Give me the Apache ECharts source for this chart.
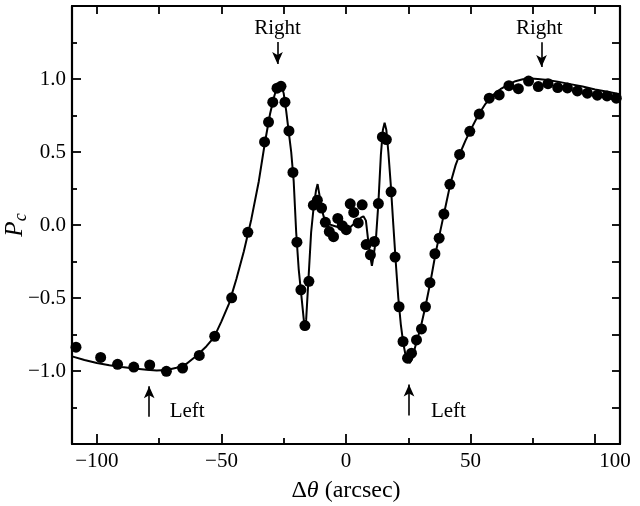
<!DOCTYPE html>
<html><head><meta charset="utf-8">
<script src="https://cdn.jsdelivr.net/npm/echarts@6/dist/echarts.min.js"></script>
<style>html,body{margin:0;padding:0;background:#fff}#c{width:640px;height:506px}</style>
</head><body><div id="c"></div>
<script>
// Observed P_c (dots)
const obsX = [-108.4,-98.5,-91.7,-85.2,-78.8,-72.1,-65.6,-58.9,-52.7,-45.9,-39.4,-32.7,-31.1,-29.4,-27.7,-26.1,-24.5,-22.9,-21.3,-19.7,-18.1,-16.5,-14.9,-13.1,-11.5,-9.8,-8.3,-6.7,-5.0,-3.3,-1.5,0.1,1.7,3.1,4.9,6.5,8.1,9.8,11.4,13.0,14.6,16.2,18.1,19.7,21.3,22.9,24.7,26.3,28.3,30.3,31.9,33.7,35.7,37.4,39.3,41.7,45.6,49.7,53.5,57.5,61.5,65.4,69.2,73.3,77.2,81.1,85.0,88.9,92.9,96.9,100.9,104.8,108.5];
const obsY = [-0.837,-0.907,-0.954,-0.973,-0.959,-1.002,-0.98,-0.893,-0.762,-0.499,-0.05,0.569,0.705,0.841,0.937,0.95,0.841,0.644,0.36,-0.118,-0.444,-0.689,-0.386,0.136,0.17,0.116,0.018,-0.045,-0.08,0.045,-0.005,-0.032,0.145,0.086,0.014,0.138,-0.134,-0.204,-0.113,0.147,0.603,0.585,0.227,-0.22,-0.56,-0.798,-0.912,-0.878,-0.787,-0.712,-0.56,-0.395,-0.197,-0.09,0.075,0.279,0.483,0.642,0.76,0.869,0.891,0.954,0.934,0.986,0.948,0.968,0.941,0.939,0.918,0.903,0.889,0.884,0.869];
// Model curve
const modelX = [-110,-105,-100,-95,-90,-85,-80,-76,-72,-68,-64,-60,-56,-53,-50,-47,-44,-41,-38,-35,-32.5,-30.5,-29,-28,-27,-26,-25,-24,-23,-22,-21,-20,-19,-18,-17,-16.5,-16,-15,-14,-13,-12,-11.4,-10.8,-10,-9,-8,-6,-4,-2,0,2,4,6,7,8,9,10,10.4,11,12,13,14,14.8,15.5,16.2,17,18,19,20,21,22,23,24,25.5,26.5,28,30,32,34,36,38,40,42,44,46,48,50,53,56,59,62,65,68,71,74,77,80,85,90,95,100,105,110];
const modelY = [-0.9,-0.925,-0.945,-0.96,-0.972,-0.983,-0.992,-0.996,-0.993,-0.978,-0.95,-0.895,-0.83,-0.77,-0.66,-0.54,-0.37,-0.18,0.04,0.3,0.57,0.76,0.87,0.93,0.965,0.96,0.9,0.78,0.64,0.5,0.3,-0.05,-0.3,-0.47,-0.64,-0.72,-0.65,-0.35,-0.05,0.12,0.24,0.28,0.22,0.13,0.06,0.02,0.0,-0.01,-0.02,-0.04,-0.01,0.02,0.05,0.06,0.03,-0.12,-0.24,-0.28,-0.22,-0.1,0.15,0.48,0.65,0.7,0.65,0.5,0.27,0.0,-0.26,-0.5,-0.68,-0.81,-0.9,-0.946,-0.92,-0.82,-0.7,-0.55,-0.38,-0.19,-0.03,0.13,0.29,0.41,0.5,0.58,0.65,0.75,0.83,0.89,0.93,0.96,0.985,0.998,1.003,1.0,0.995,0.982,0.965,0.948,0.928,0.912,0.895];
// Ticks
const xTickValues = [-100,-50,0,50,100];
const xMinorTickValues = [-75,-25,25,75];
const xTopTickValues = [-100,-75,-50,-25,0,25,50,75,100];
const yTickValues = [-1,-0.5,0,0.5,1];
const yMinorTickValues = [-1.25,-0.75,-0.25,0.25,0.75,1.25];
const yRightTickValues = [-1.25,-1,-0.75,-0.5,-0.25,0,0.25,0.5,0.75,1,1.25];
// Annotations
const noteText = ['Right','Right','Left','Left'];
const noteArrowX = [-27.5,78.5,-79,25.3];
const noteArrowFromY = [1.254,1.252,-1.313,-1.305];
const noteArrowToY = [1.102,1.082,-1.104,-1.093];
const noteTextX = [-27.5,77.6,-70.8,34.1];
const noteTextY = [1.345,1.345,-1.274,-1.274];
const noteAlign = ['center','center','left','left'];

const FONT = 'Liberation Serif';
const BLK = '#000';
const minus = s => s.replace('-', '\u2212');
const zip = (a,b) => a.map((v,i)=>[v,b[i]]);

const chart = echarts.init(document.getElementById('c'), null, {renderer:'canvas'});
const baseX = {type:'value', min:-110, max:110, splitLine:{show:false}};
const baseY = {type:'value', min:-1.5, max:1.5, splitLine:{show:false}};
const tickStyle = {color:BLK, width:1.8};
chart.setOption({
  animation:false,
  backgroundColor:'#fff',
  grid:{left:72,right:20,top:6,bottom:62,containLabel:false,outerBoundsMode:'none'},
  xAxis:[
    Object.assign({}, baseX, {
      position:'bottom',
      axisLine:{show:true,onZero:false,lineStyle:{color:BLK,width:2.2}},
      axisTick:{show:true,inside:true,length:10,customValues:xTickValues,lineStyle:tickStyle},
      axisLabel:{show:true,customValues:xTickValues,margin:7,color:BLK,fontFamily:FONT,fontSize:21,
        formatter:v=> v===100 ? '{r|100}' : minus(String(v)),
        rich:{r:{padding:[0,0,0,40],color:BLK,fontFamily:FONT,fontSize:21}}},
      name:'{n|\u0394}{i|\u03b8}{n| (arcsec)}',
      nameLocation:'middle', nameGap:35, nameMoveOverlap:false,
      nameTextStyle:{rich:{n:{fontFamily:FONT,fontSize:24,color:BLK},i:{fontFamily:FONT,fontSize:24,fontStyle:'italic',color:BLK}}}
    }),
    Object.assign({}, baseX, {
      position:'bottom',
      axisLine:{show:false,onZero:false},
      axisTick:{show:true,inside:true,length:6,customValues:xMinorTickValues,lineStyle:tickStyle},
      axisLabel:{show:false}
    }),
    Object.assign({}, baseX, {
      position:'top',
      axisLine:{show:true,onZero:false,lineStyle:{color:BLK,width:2.2}},
      axisTick:{show:true,inside:true,length:8,customValues:xTopTickValues,lineStyle:tickStyle},
      axisLabel:{show:false}
    })
  ],
  yAxis:[
    Object.assign({}, baseY, {
      position:'left',
      axisLine:{show:true,onZero:false,lineStyle:{color:BLK,width:2.2}},
      axisTick:{show:true,inside:true,length:9,customValues:yTickValues,lineStyle:tickStyle},
      axisLabel:{show:true,customValues:yTickValues,margin:6,color:BLK,fontFamily:FONT,fontSize:21,
        formatter:v=>minus(v.toFixed(1))},
      name:'{p|P}{c|c}',
      nameLocation:'middle', nameRotate:90, nameGap:42, nameMoveOverlap:false,
      nameTextStyle:{rich:{p:{fontFamily:FONT,fontSize:25,fontStyle:'italic',color:BLK},
        c:{fontFamily:FONT,fontSize:18,fontStyle:'italic',color:BLK,padding:[12,0,0,0]}}}
    }),
    Object.assign({}, baseY, {
      position:'left',
      axisLine:{show:false,onZero:false},
      axisTick:{show:true,inside:true,length:5,customValues:yMinorTickValues,lineStyle:tickStyle},
      axisLabel:{show:false}
    }),
    Object.assign({}, baseY, {
      position:'right',
      axisLine:{show:true,onZero:false,lineStyle:{color:BLK,width:2.2}},
      axisTick:{show:true,inside:true,length:8,customValues:yRightTickValues,lineStyle:tickStyle},
      axisLabel:{show:false}
    })
  ],
  series:[
    {type:'line', xAxisIndex:0, yAxisIndex:0, data:zip(modelX,modelY), showSymbol:false, symbol:'none',
     lineStyle:{color:BLK,width:2}, z:3,
     markLine:{silent:true, symbol:['none','arrow'], symbolSize:[8,12], animation:false,
       lineStyle:{color:BLK,width:1.6,type:'solid'}, label:{show:false},
       data:noteArrowX.map((x,i)=>[{coord:[x,noteArrowFromY[i]]},{coord:[x,noteArrowToY[i]]}])},
     markPoint:{silent:true, symbol:'circle', symbolSize:0, animation:false,
       data:noteText.map((t,i)=>({coord:[noteTextX[i],noteTextY[i]], value:t,
         label:{show:true,position:'inside',formatter:t,align:noteAlign[i],verticalAlign:'middle',
           color:BLK,fontFamily:FONT,fontSize:21}}))}
    },
    {type:'scatter', xAxisIndex:0, yAxisIndex:0, data:zip(obsX,obsY), symbol:'circle', symbolSize:11,
     itemStyle:{color:BLK,opacity:1}, z:4}
  ]
});
</script></body></html>
